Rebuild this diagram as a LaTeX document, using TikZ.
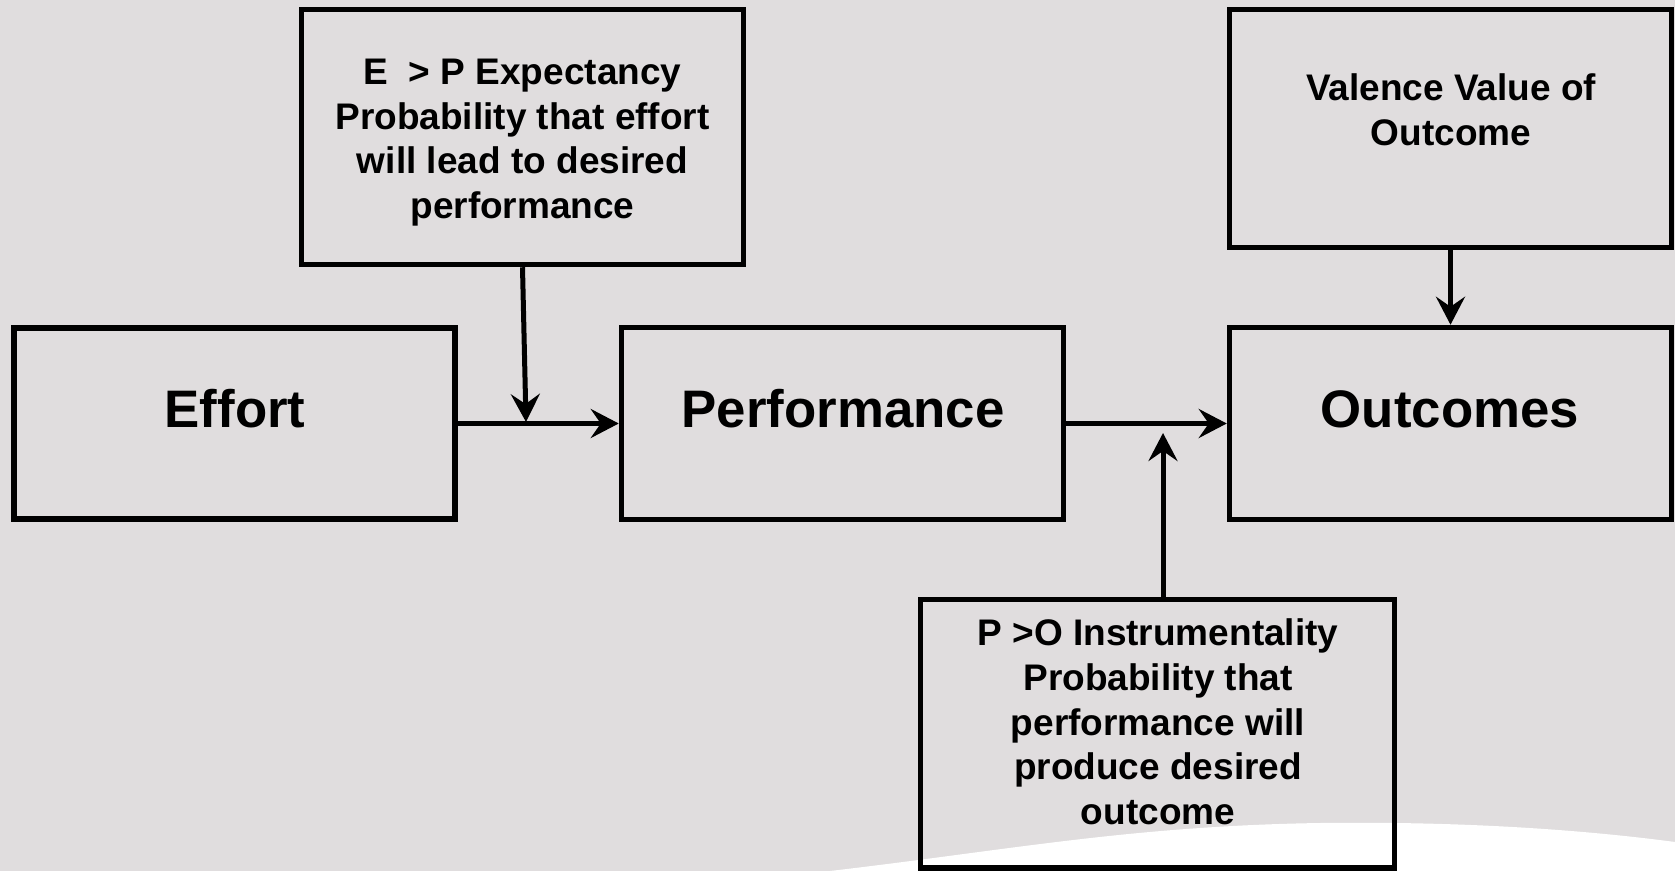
\documentclass[tikz,border=0pt]{standalone}
\usepackage{fontspec}
\setmainfont{Liberation Sans}
\usetikzlibrary{arrows.meta}
\definecolor{slide}{RGB}{224,221,222}
\begin{document}
\begin{tikzpicture}[x=0.5pt,y=-0.5pt,
  box/.style={draw=black, line width=2.75pt, inner sep=0pt, fill=none},
  bigtxt/.style={font=\fontsize{26.4}{31}\selectfont\bfseries, inner sep=0pt, anchor=base},
  smalltxt/.style={font=\fontsize{18.5}{22.4}\selectfont\bfseries, inner sep=0pt, align=center, anchor=north},
  arr/.style={line width=2.5pt, -{Stealth[length=14pt, width=14.5pt, inset=5pt]}}]
% slide background and the white swoosh at the bottom
\fill[slide] (0,0) rectangle (1675,871);
\useasboundingbox (0,0) rectangle (1675,871);
\fill[white] (830,871) .. controls (1010,850) and (1130,826) .. (1320,823)
  .. controls (1480,821) and (1600,832) .. (1675,842) -- (1675,871) -- cycle;

% main chain
\node[box, minimum width=220.5pt, minimum height=95.5pt] (effort) at (234.5,423.5) {};
\node[box, minimum width=221pt, minimum height=96pt] (perf) at (842.5,423.5) {};
\node[box, minimum width=221pt, minimum height=96pt] (outc) at (1450.5,423.5) {};
\node[bigtxt] (effortT) at (235,428) {Effort};
\node[bigtxt] (perfT) at (843,428) {Performance};
\node[bigtxt] (outcT) at (1450,428) {Outcomes};

% moderating boxes
\node[box, minimum width=221pt, minimum height=127.5pt] (ep) at (522.5,137) {};
\node[box, minimum width=221pt, minimum height=119pt] (val) at (1450.5,128.5) {};
\node[box, minimum width=237pt, minimum height=134.25pt] (po) at (1157.5,733.75) {};
\node[smalltxt] (epT) at (522.5,44) {\rule{0pt}{20pt}E\ \ > P Expectancy\\Probability that effort\\will lead to desired\\performance};
\node[smalltxt] (valT) at (1451,60) {\rule{0pt}{20pt}Valence Value of\\Outcome};
\node[smalltxt] (poT) at (1158,605) {\rule{0pt}{20pt}P >O Instrumentality\\Probability that\\performance will\\produce desired\\outcome};

% connectors
\coordinate (epHit) at (526,422);
\coordinate (poHit) at (1163,433);
\draw[arr] (effort.east) -- (perf.west);
\draw[arr] (perf.east) -- (outc.west);
\draw[arr] (ep.south) -- (epHit);
\draw[arr] (po.north -| poHit) -- (poHit);
\draw[arr] (val.south) -- (outc.north);
\end{tikzpicture}
\end{document}
